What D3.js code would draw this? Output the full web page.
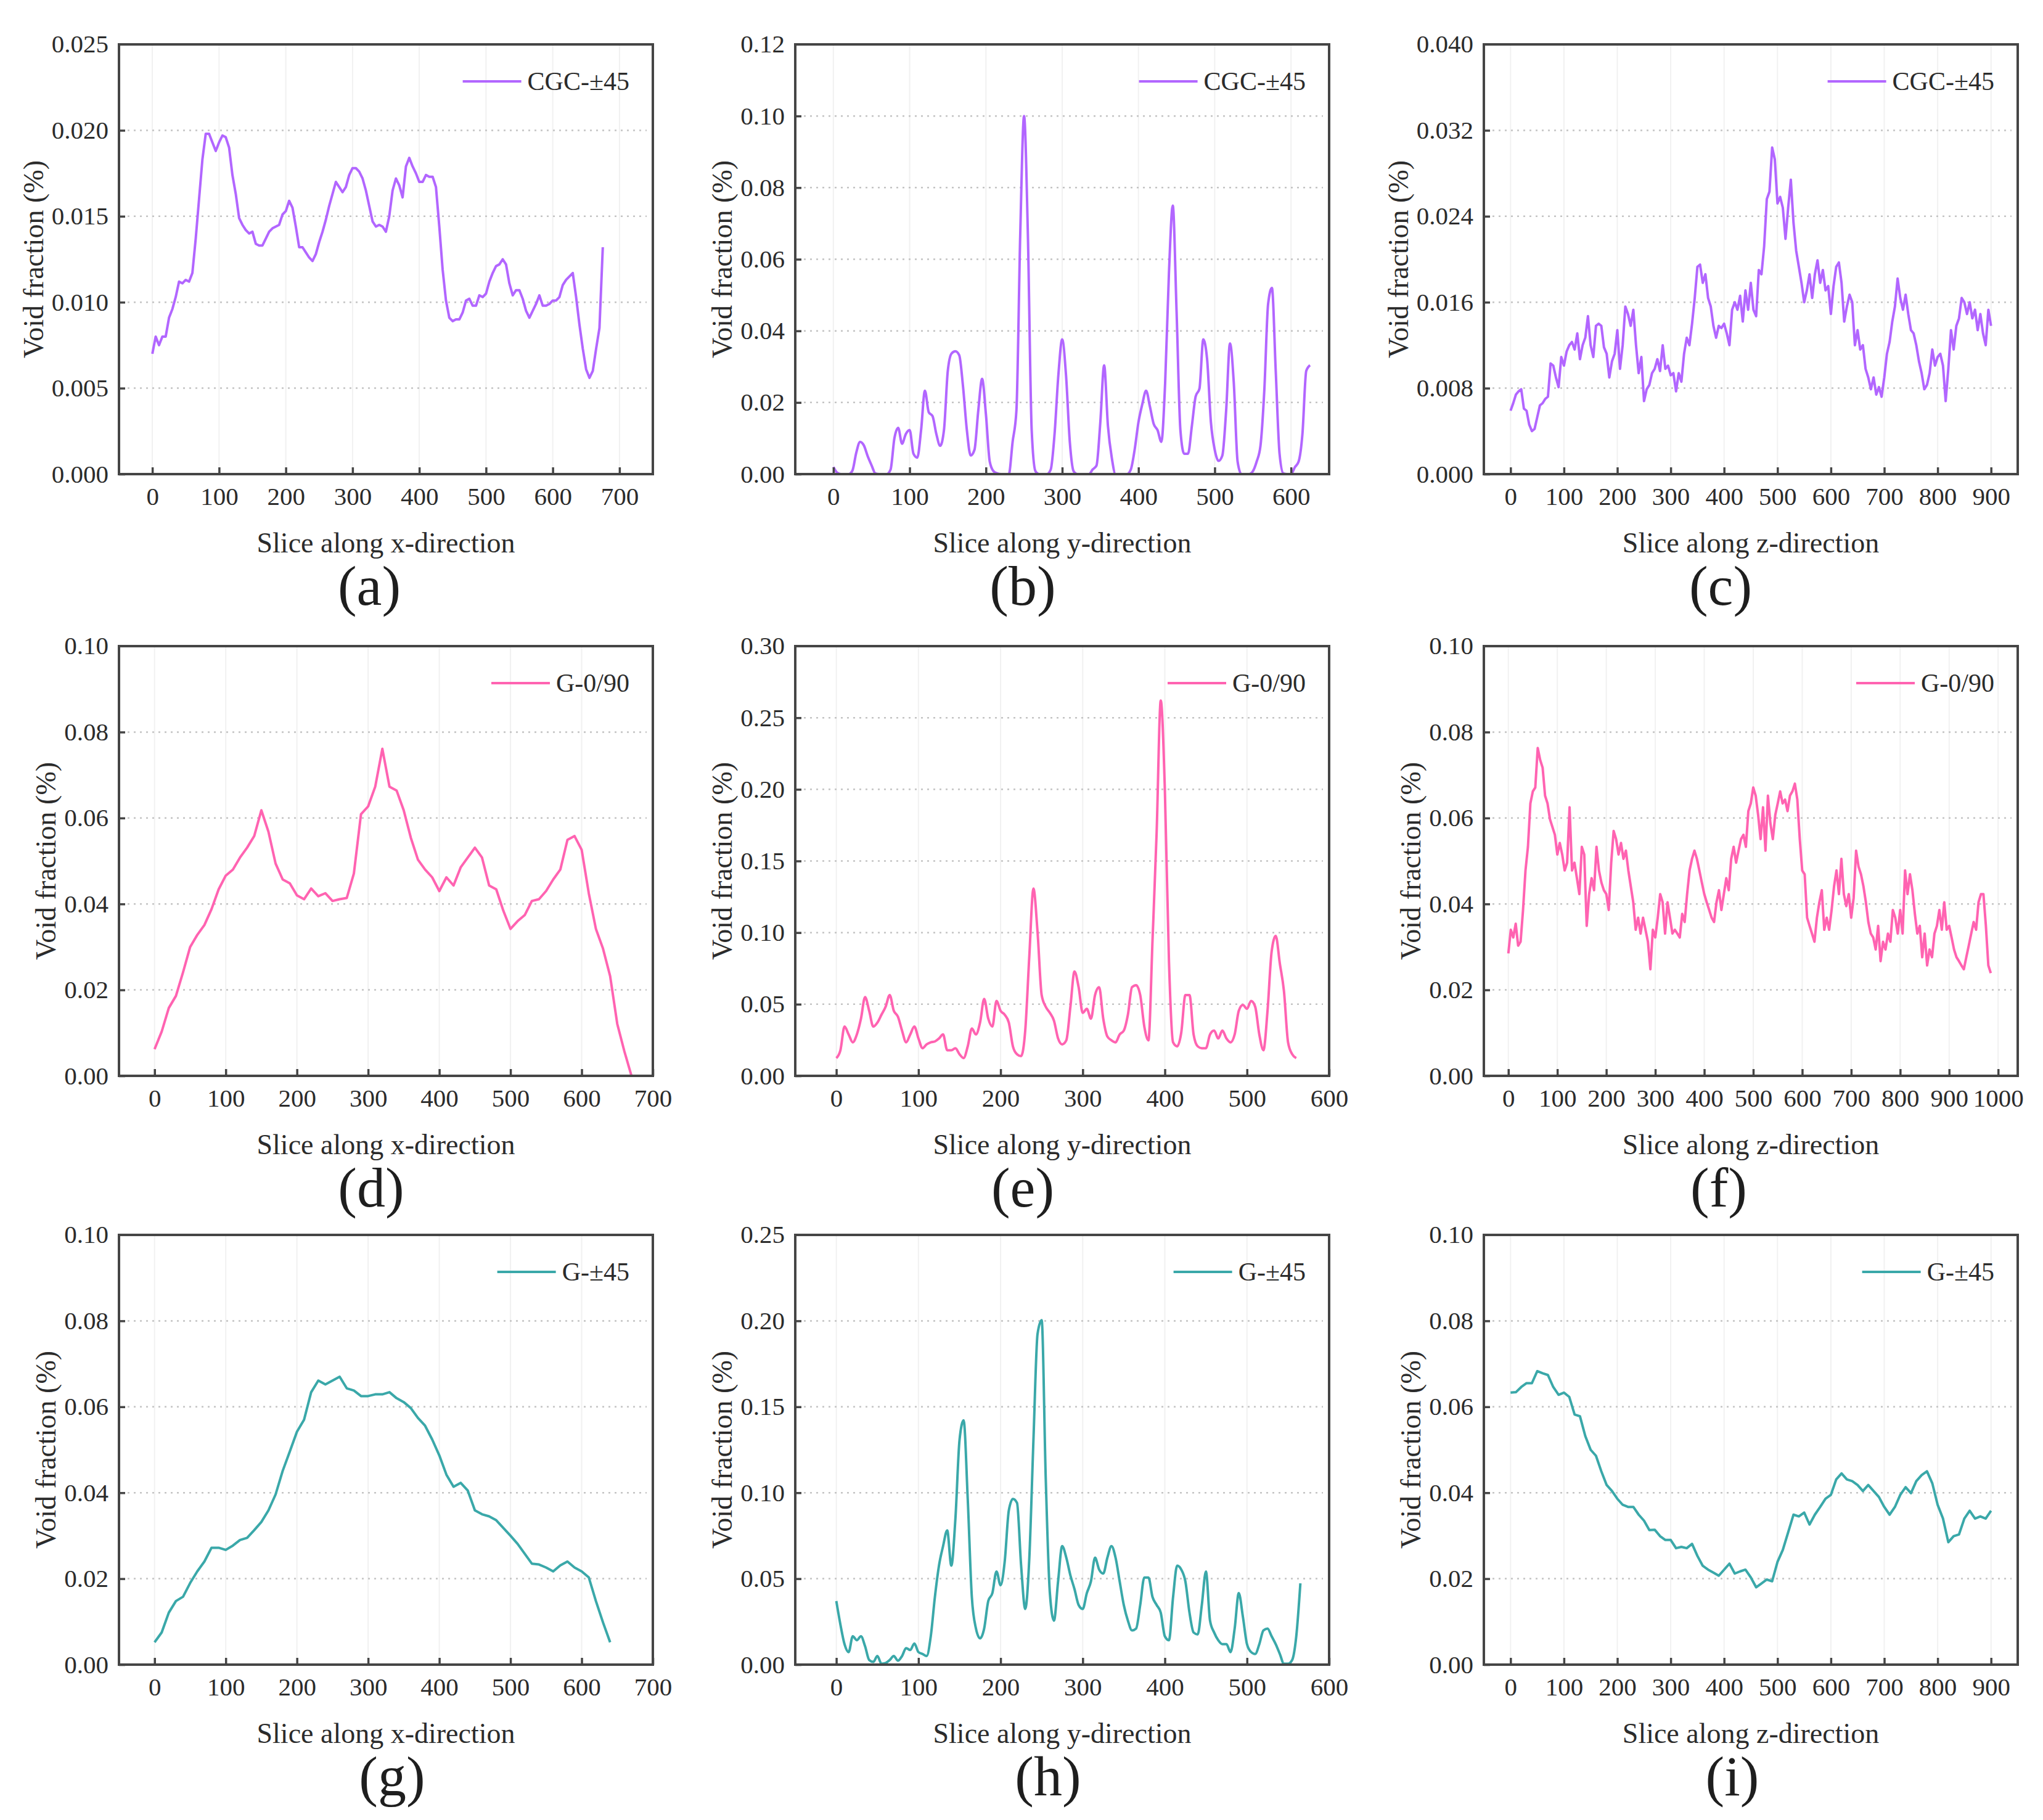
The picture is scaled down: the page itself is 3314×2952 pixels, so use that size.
<!DOCTYPE html>
<html>
<head>
<meta charset="utf-8">
<script src="https://cdn.jsdelivr.net/npm/d3@7"></script>
<style>
  body { margin: 0; background: #fff; }
  svg { display: block; }
  text { font-family: "Liberation Serif", "Times New Roman", serif; }
</style>
</head>
<body>
<div class="fig"></div>
<script>
// void fraction (%) per slice
// CGC-±45, x-direction, one value every 5 slices from 0
var cgcX = [
  0.0070, 0.0080, 0.0075, 0.0080, 0.0080, 0.0091, 0.0096, 0.0103, 0.0112, 0.0111,
  0.0113, 0.0112, 0.0117, 0.0137, 0.0160, 0.0183, 0.0198, 0.0198, 0.0193, 0.0188,
  0.0193, 0.0197, 0.0196, 0.0190, 0.0174, 0.0163, 0.0149, 0.0145, 0.0142, 0.0140,
  0.0141, 0.0134, 0.0133, 0.0133, 0.0137, 0.0141, 0.0143, 0.0144, 0.0145, 0.0151,
  0.0153, 0.0159, 0.0155, 0.0144, 0.0132, 0.0132, 0.0129, 0.0126, 0.0124, 0.0128,
  0.0135, 0.0141, 0.0148, 0.0156, 0.0163, 0.0170, 0.0167, 0.0164, 0.0167, 0.0174,
  0.0178, 0.0178, 0.0176, 0.0172, 0.0165, 0.0156, 0.0147, 0.0144, 0.0145, 0.0144,
  0.0141, 0.0150, 0.0165, 0.0172, 0.0168, 0.0161, 0.0179, 0.0184, 0.0179, 0.0175,
  0.0170, 0.0170, 0.0174, 0.0173, 0.0173, 0.0167, 0.0144, 0.0119, 0.0101, 0.0091,
  0.0089, 0.0090, 0.0090, 0.0094, 0.0101, 0.0102, 0.0098, 0.0098, 0.0104, 0.0103,
  0.0105, 0.0112, 0.0117, 0.0121, 0.0122, 0.0125, 0.0122, 0.0111, 0.0104, 0.0107,
  0.0107, 0.0102, 0.0095, 0.0091, 0.0095, 0.0099, 0.0104, 0.0098, 0.0098, 0.0099,
  0.0101, 0.0101, 0.0103, 0.0110, 0.0113, 0.0115, 0.0117, 0.0103, 0.0087, 0.0073,
  0.0061, 0.0056, 0.0060, 0.0073, 0.0085, 0.0132
];
// CGC-±45, y-direction, every 5 slices
var cgcY = [
  0.0020, 0.0004, 0, 0, 0, 0.0010, 0.0060, 0.0090, 0.0080, 0.0050,
  0.0025, 0.0002, 0, 0, 0, 0.0013, 0.0100, 0.0129, 0.0085, 0.0112,
  0.0123, 0.0057, 0.0046, 0.0123, 0.0233, 0.0173, 0.0162, 0.0112, 0.0079, 0.0123,
  0.0288, 0.0337, 0.0343, 0.0332, 0.0244, 0.0123, 0.0052, 0.0068, 0.0178, 0.0266,
  0.0167, 0.0035, 0.0008, 0.0002, 0, 0, 0, 0.0090, 0.0178, 0.0670,
  0.1000, 0.0670, 0.0123, 0.0008, 0, 0, 0, 0.0013, 0.0112, 0.0277,
  0.0376, 0.0277, 0.0090, 0.0008, 0, 0, 0, 0, 0.0013, 0.0024,
  0.0145, 0.0304, 0.0134, 0.0046, 0, 0, 0, 0, 0.0013, 0.0068,
  0.0145, 0.0195, 0.0233, 0.0189, 0.0140, 0.0123, 0.0090, 0.0255, 0.0563, 0.0750,
  0.0453, 0.0123, 0.0057, 0.0057, 0.0134, 0.0217, 0.0239, 0.0376, 0.0321, 0.0145,
  0.0068, 0.0037, 0.0052, 0.0178, 0.0365, 0.0255, 0.0035, 0, 0, 0,
  0.0008, 0.0035, 0.0079, 0.0233, 0.0475, 0.0520, 0.0288, 0.0057, 0.0002, 0,
  0, 0.0019, 0.0035, 0.0112, 0.0288, 0.0304
];
// CGC-±45, z-direction, every 5 slices
var cgcZ = [
  0.0059, 0.0066, 0.0074, 0.0077, 0.0079, 0.0061, 0.0059, 0.0046, 0.0040, 0.0042,
  0.0053, 0.0064, 0.0066, 0.0070, 0.0072, 0.0103, 0.0101, 0.0090, 0.0081, 0.0109,
  0.0101, 0.0114, 0.0120, 0.0123, 0.0116, 0.0131, 0.0107, 0.0120, 0.0127, 0.0147,
  0.0120, 0.0109, 0.0138, 0.0140, 0.0138, 0.0118, 0.0112, 0.0090, 0.0105, 0.0112,
  0.0134, 0.0098, 0.0120, 0.0156, 0.0149, 0.0138, 0.0153, 0.0120, 0.0094, 0.0109,
  0.0068, 0.0079, 0.0083, 0.0094, 0.0098, 0.0107, 0.0096, 0.0120, 0.0098, 0.0101,
  0.0092, 0.0094, 0.0077, 0.0094, 0.0086, 0.0112, 0.0127, 0.0120, 0.0140, 0.0164,
  0.0193, 0.0195, 0.0178, 0.0186, 0.0164, 0.0156, 0.0138, 0.0127, 0.0138, 0.0136,
  0.0140, 0.0131, 0.0120, 0.0153, 0.0160, 0.0153, 0.0166, 0.0142, 0.0171, 0.0153,
  0.0178, 0.0153, 0.0147, 0.0190, 0.0186, 0.0212, 0.0256, 0.0263, 0.0304, 0.0293,
  0.0252, 0.0258, 0.0248, 0.0219, 0.0248, 0.0274, 0.0234, 0.0208, 0.0193, 0.0178,
  0.0160, 0.0171, 0.0186, 0.0164, 0.0186, 0.0199, 0.0178, 0.0190, 0.0171, 0.0175,
  0.0149, 0.0175, 0.0193, 0.0197, 0.0178, 0.0142, 0.0156, 0.0167, 0.0160, 0.0120,
  0.0134, 0.0116, 0.0120, 0.0098, 0.0090, 0.0079, 0.0090, 0.0074, 0.0081, 0.0072,
  0.0090, 0.0112, 0.0123, 0.0142, 0.0156, 0.0182, 0.0164, 0.0153, 0.0167, 0.0149,
  0.0134, 0.0131, 0.0120, 0.0105, 0.0094, 0.0079, 0.0083, 0.0094, 0.0116, 0.0101,
  0.0109, 0.0112, 0.0101, 0.0068, 0.0098, 0.0134, 0.0116, 0.0138, 0.0145, 0.0164,
  0.0160, 0.0149, 0.0160, 0.0145, 0.0153, 0.0134, 0.0149, 0.0131, 0.0120, 0.0153,
  0.0138
];
// G-0/90, x-direction, every 10 slices
var g090X = [
  0.0062, 0.0103, 0.0158, 0.0186, 0.0241, 0.0300, 0.0328, 0.0351, 0.0388, 0.0434,
  0.0466, 0.0480, 0.0508, 0.0531, 0.0558, 0.0618, 0.0568, 0.0494, 0.0457, 0.0448,
  0.0420, 0.0411, 0.0436, 0.0418, 0.0425, 0.0407, 0.0411, 0.0414, 0.0471, 0.0609,
  0.0627, 0.0673, 0.0761, 0.0673, 0.0664, 0.0618, 0.0554, 0.0503, 0.0480, 0.0462,
  0.0430, 0.0462, 0.0443, 0.0485, 0.0508, 0.0531, 0.0508, 0.0443, 0.0434, 0.0384,
  0.0342, 0.0360, 0.0374, 0.0407, 0.0411, 0.0430, 0.0457, 0.0480, 0.0549, 0.0558,
  0.0526, 0.0425, 0.0342, 0.0296, 0.0232, 0.0121, 0.0057, 0.0000
];
// G-0/90, y-direction, every 5 slices
var g090Y = [
  0.0124, 0.0179, 0.0344, 0.0289, 0.0234, 0.0289, 0.0399, 0.0550, 0.0454, 0.0344,
  0.0372, 0.0427, 0.0482, 0.0564, 0.0454, 0.0413, 0.0316, 0.0234, 0.0289, 0.0344,
  0.0261, 0.0193, 0.0220, 0.0234, 0.0240, 0.0261, 0.0289, 0.0179, 0.0179, 0.0193,
  0.0151, 0.0124, 0.0206, 0.0330, 0.0289, 0.0372, 0.0537, 0.0399, 0.0344, 0.0523,
  0.0454, 0.0427, 0.0372, 0.0206, 0.0151, 0.0138, 0.0316, 0.0839, 0.1307, 0.1004,
  0.0564, 0.0482, 0.0440, 0.0385, 0.0261, 0.0220, 0.0248, 0.0482, 0.0729, 0.0619,
  0.0440, 0.0468, 0.0399, 0.0564, 0.0619, 0.0399, 0.0275, 0.0248, 0.0234, 0.0289,
  0.0316, 0.0427, 0.0619, 0.0633, 0.0564, 0.0344, 0.0248, 0.0949, 0.1700, 0.2620,
  0.2000, 0.0800, 0.0234, 0.0206, 0.0303, 0.0564, 0.0564, 0.0289, 0.0206, 0.0193,
  0.0193, 0.0289, 0.0316, 0.0261, 0.0316, 0.0261, 0.0234, 0.0289, 0.0454, 0.0495,
  0.0468, 0.0523, 0.0482, 0.0289, 0.0179, 0.0454, 0.0867, 0.0977, 0.0784, 0.0592,
  0.0234, 0.0151, 0.0124
];
// G-0/90, z-direction, every 5 slices
var g090Z = [
  0.0285, 0.0340, 0.0322, 0.0354, 0.0303, 0.0312, 0.0386, 0.0478, 0.0533, 0.0634,
  0.0662, 0.0671, 0.0763, 0.0735, 0.0717, 0.0652, 0.0634, 0.0597, 0.0579, 0.0561,
  0.0515, 0.0542, 0.0515, 0.0478, 0.0496, 0.0625, 0.0478, 0.0496, 0.0460, 0.0423,
  0.0533, 0.0515, 0.0349, 0.0423, 0.0460, 0.0432, 0.0533, 0.0478, 0.0450, 0.0432,
  0.0423, 0.0386, 0.0496, 0.0570, 0.0551, 0.0515, 0.0542, 0.0505, 0.0524, 0.0478,
  0.0441, 0.0404, 0.0340, 0.0368, 0.0331, 0.0368, 0.0340, 0.0312, 0.0248, 0.0340,
  0.0322, 0.0368, 0.0423, 0.0404, 0.0331, 0.0404, 0.0368, 0.0331, 0.0340, 0.0331,
  0.0322, 0.0377, 0.0358, 0.0423, 0.0478, 0.0505, 0.0524, 0.0505, 0.0478, 0.0450,
  0.0423, 0.0404, 0.0386, 0.0368, 0.0358, 0.0404, 0.0432, 0.0386, 0.0423, 0.0460,
  0.0432, 0.0505, 0.0533, 0.0496, 0.0524, 0.0551, 0.0561, 0.0533, 0.0616, 0.0634,
  0.0671, 0.0652, 0.0607, 0.0551, 0.0625, 0.0524, 0.0652, 0.0588, 0.0551, 0.0607,
  0.0634, 0.0662, 0.0634, 0.0643, 0.0616, 0.0652, 0.0662, 0.0680, 0.0643, 0.0551,
  0.0478, 0.0469, 0.0368, 0.0349, 0.0331, 0.0312, 0.0368, 0.0404, 0.0432, 0.0340,
  0.0368, 0.0340, 0.0386, 0.0441, 0.0478, 0.0423, 0.0505, 0.0423, 0.0395, 0.0423,
  0.0368, 0.0414, 0.0524, 0.0487, 0.0469, 0.0441, 0.0404, 0.0358, 0.0331, 0.0322,
  0.0294, 0.0349, 0.0267, 0.0312, 0.0294, 0.0331, 0.0312, 0.0386, 0.0368, 0.0331,
  0.0386, 0.0331, 0.0478, 0.0423, 0.0469, 0.0432, 0.0377, 0.0331, 0.0349, 0.0276,
  0.0331, 0.0257, 0.0294, 0.0276, 0.0331, 0.0349, 0.0386, 0.0340, 0.0404, 0.0340,
  0.0349, 0.0322, 0.0294, 0.0276, 0.0267, 0.0257, 0.0248, 0.0276, 0.0303, 0.0331,
  0.0358, 0.0340, 0.0404, 0.0423, 0.0423, 0.0349, 0.0257, 0.0239
];
// G-±45, x-direction, every 10 slices
var g45X = [
  0.0052, 0.0075, 0.0121, 0.0148, 0.0158, 0.0190, 0.0217, 0.0240, 0.0272, 0.0272,
  0.0267, 0.0277, 0.0290, 0.0295, 0.0313, 0.0332, 0.0359, 0.0396, 0.0451, 0.0496,
  0.0542, 0.0570, 0.0634, 0.0661, 0.0652, 0.0661, 0.0670, 0.0643, 0.0638, 0.0625,
  0.0625, 0.0629, 0.0629, 0.0634, 0.0620, 0.0611, 0.0597, 0.0574, 0.0556, 0.0524,
  0.0487, 0.0442, 0.0414, 0.0423, 0.0405, 0.0359, 0.0350, 0.0345, 0.0336, 0.0318,
  0.0300, 0.0281, 0.0258, 0.0235, 0.0233, 0.0226, 0.0217, 0.0231, 0.0240, 0.0226,
  0.0217, 0.0203, 0.0148, 0.0098, 0.0052
];
// G-±45, y-direction, every 5 slices
var g45Y = [
  0.0370, 0.0233, 0.0119, 0.0073, 0.0165, 0.0142, 0.0165, 0.0107, 0.0027, 0.0016,
  0.0050, 0.0005, 0.0009, 0.0027, 0.0050, 0.0023, 0.0050, 0.0096, 0.0085, 0.0123,
  0.0073, 0.0062, 0.0050, 0.0165, 0.0393, 0.0576, 0.0690, 0.0781, 0.0576, 0.0850,
  0.1307, 0.1421, 0.0964, 0.0393, 0.0210, 0.0153, 0.0210, 0.0370, 0.0416, 0.0542,
  0.0462, 0.0599, 0.0896, 0.0964, 0.0941, 0.0576, 0.0324, 0.0622, 0.1307, 0.1924,
  0.2004, 0.1079, 0.0416, 0.0256, 0.0484, 0.0690, 0.0622, 0.0519, 0.0439, 0.0347,
  0.0324, 0.0416, 0.0484, 0.0622, 0.0553, 0.0530, 0.0622, 0.0690, 0.0622, 0.0484,
  0.0347, 0.0256, 0.0199, 0.0210, 0.0347, 0.0507, 0.0507, 0.0393, 0.0347, 0.0302,
  0.0165, 0.0142, 0.0393, 0.0576, 0.0553, 0.0484, 0.0302, 0.0187, 0.0176, 0.0347,
  0.0542, 0.0256, 0.0187, 0.0142, 0.0119, 0.0119, 0.0073, 0.0210, 0.0416, 0.0279,
  0.0119, 0.0073, 0.0062, 0.0119, 0.0199, 0.0210, 0.0165, 0.0119, 0.0062, 0.0005,
  0.0005, 0.0027, 0.0165, 0.0473
];
// G-±45, z-direction, every 10 slices
var g45Z = [
  0.0633, 0.0634, 0.0646, 0.0655, 0.0655, 0.0683, 0.0678, 0.0674, 0.0646, 0.0628,
  0.0633, 0.0623, 0.0582, 0.0578, 0.0532, 0.0500, 0.0486, 0.0450, 0.0418, 0.0404,
  0.0386, 0.0372, 0.0367, 0.0367, 0.0349, 0.0335, 0.0313, 0.0314, 0.0299, 0.0290,
  0.0290, 0.0271, 0.0274, 0.0271, 0.0281, 0.0253, 0.0230, 0.0221, 0.0214, 0.0207,
  0.0221, 0.0235, 0.0212, 0.0217, 0.0221, 0.0203, 0.0180, 0.0189, 0.0198, 0.0194,
  0.0239, 0.0267, 0.0308, 0.0349, 0.0345, 0.0354, 0.0326, 0.0349, 0.0367, 0.0386,
  0.0395, 0.0431, 0.0445, 0.0431, 0.0427, 0.0418, 0.0404, 0.0418, 0.0404, 0.0390,
  0.0367, 0.0349, 0.0367, 0.0395, 0.0413, 0.0399, 0.0427, 0.0441, 0.0450, 0.0422,
  0.0372, 0.0340, 0.0285, 0.0299, 0.0303, 0.0340, 0.0358, 0.0340, 0.0345, 0.0340,
  0.0358
];

// tick labels
var xTicks600 = [0, 100, 200, 300, 400, 500, 600];
var xTicks700 = [0, 100, 200, 300, 400, 500, 600, 700];
var xTicks900 = [0, 100, 200, 300, 400, 500, 600, 700, 800, 900];
var xTicks1000 = [0, 100, 200, 300, 400, 500, 600, 700, 800, 900, 1000];
var yTicksA = [0, 0.005, 0.010, 0.015, 0.020, 0.025];
var yTicksB = [0, 0.02, 0.04, 0.06, 0.08, 0.10, 0.12];
var yTicksC = [0, 0.008, 0.016, 0.024, 0.032, 0.040];
var yTicks010 = [0, 0.02, 0.04, 0.06, 0.08, 0.10];
var yTicksE = [0, 0.05, 0.10, 0.15, 0.20, 0.25, 0.30];
var yTicksH = [0, 0.05, 0.10, 0.15, 0.20, 0.25];

var seriesNames = ["CGC-\u00b145", "G-0/90", "G-\u00b145"];
var seriesColors = ["#b266ff", "#ff63b1", "#3aa8a9"];
var directions = ["x", "y", "z"];

var panels = [
  {letter: "a", row: 0, col: 0, values: cgcX, step: 5, xMax: 750, xTicks: xTicks700, yTicks: yTicksA, fmt: ".3f", smooth: false},
  {letter: "b", row: 0, col: 1, values: cgcY, step: 5, xMax: 650, xTicks: xTicks600, yTicks: yTicksB, fmt: ".2f", smooth: true},
  {letter: "c", row: 0, col: 2, values: cgcZ, step: 5, xMax: 950, xTicks: xTicks900, yTicks: yTicksC, fmt: ".3f", smooth: false},
  {letter: "d", row: 1, col: 0, values: g090X, step: 10, xMax: 700, xTicks: xTicks700, yTicks: yTicks010, fmt: ".2f", smooth: false},
  {letter: "e", row: 1, col: 1, values: g090Y, step: 5, xMax: 600, xTicks: xTicks600, yTicks: yTicksE, fmt: ".2f", smooth: true},
  {letter: "f", row: 1, col: 2, values: g090Z, step: 5, xMax: 1040, xTicks: xTicks1000, yTicks: yTicks010, fmt: ".2f", smooth: false},
  {letter: "g", row: 2, col: 0, values: g45X, step: 10, xMax: 700, xTicks: xTicks700, yTicks: yTicks010, fmt: ".2f", smooth: false},
  {letter: "h", row: 2, col: 1, values: g45Y, step: 5, xMax: 600, xTicks: xTicks600, yTicks: yTicksH, fmt: ".2f", smooth: true},
  {letter: "i", row: 2, col: 2, values: g45Z, step: 10, xMax: 950, xTicks: xTicks900, yTicks: yTicks010, fmt: ".2f", smooth: false}
];

// page layout
var lefts = [193, 1290, 2407];
var tops = [72, 1048, 2003];
var W = 866, H = 697;
var letterDx = [[-27, -64, -49], [-24, -64, -52], [10, -23, -30]];

var svg = d3.select(".fig").append("svg")
    .attr("width", 3314)
    .attr("height", 2952)
    .style("background", "#fff");

panels.forEach(function(p) {
  var g = svg.append("g")
      .attr("transform", "translate(" + lefts[p.col] + "," + tops[p.row] + ")");

  var x = d3.scaleLinear().domain([-50, p.xMax]).range([0, W]);
  var y = d3.scaleLinear().domain([0, p.yTicks[p.yTicks.length - 1]]).range([H, 0]);

  // faint vertical grid
  g.append("g").selectAll("line")
      .data(p.xTicks)
    .join("line")
      .attr("x1", x).attr("x2", x)
      .attr("y1", 0).attr("y2", H)
      .style("stroke", "#f1f1f1")
      .style("stroke-width", "2px");

  // dotted horizontal grid
  g.append("g").selectAll("line")
      .data(p.yTicks.slice(1, -1))
    .join("line")
      .attr("x1", 14).attr("x2", W - 10)
      .attr("y1", y).attr("y2", y)
      .style("stroke", "#c4c4c4")
      .style("stroke-width", "2.5px")
      .style("stroke-dasharray", "3,7");

  var pts = p.values.map(function(v, i) { return [i * p.step, v]; });
  var line = d3.line()
      .x(function(d) { return x(d[0]); })
      .y(function(d) { return y(d[1]); })
      .curve(p.smooth ? d3.curveMonotoneX : d3.curveLinear);

  g.append("path")
      .datum(pts)
      .attr("d", line)
      .style("fill", "none")
      .style("stroke", seriesColors[p.row])
      .style("stroke-width", "4px")
      .style("stroke-linejoin", "round");

  g.append("rect")
      .attr("width", W)
      .attr("height", H)
      .style("fill", "none")
      .style("stroke", "#454545")
      .style("stroke-width", "4px");

  var xa = g.append("g")
      .attr("transform", "translate(0," + H + ")")
      .call(d3.axisBottom(x).tickValues(p.xTicks).tickSize(-11).tickPadding(21).tickFormat(d3.format("d")));
  var ya = g.append("g")
      .call(d3.axisLeft(y).tickValues(p.yTicks.slice(0, -1)).tickSize(-10).tickPadding(17).tickFormat(d3.format(p.fmt)));

  // top label of the y axis has no tick, just the number
  ya.append("text")
      .attr("x", -17)
      .attr("y", 0)
      .attr("dy", "0.32em")
      .attr("text-anchor", "end")
      .text(d3.format(p.fmt)(p.yTicks[p.yTicks.length - 1]));

  [xa, ya].forEach(function(a) {
    a.attr("font-family", null).attr("font-size", null);
    a.select(".domain").remove();
    a.selectAll("line").style("stroke", "#454545").style("stroke-width", "3.5px");
    a.selectAll("text").style("font-size", "41px").style("fill", "#2b2b2b");
  });

  // axis titles
  var yb = ya.node().getBBox();
  var cx = yb.x - 30;
  g.append("text")
      .attr("transform", "translate(" + (cx + 16) + "," + (H / 2) + ") rotate(-90)")
      .attr("text-anchor", "middle")
      .style("font-size", "46px")
      .style("fill", "#2b2b2b")
      .text("Void fraction (%)");

  g.append("text")
      .attr("x", W / 2)
      .attr("y", H + 127)
      .attr("text-anchor", "middle")
      .style("font-size", "46px")
      .style("fill", "#2b2b2b")
      .text("Slice along " + directions[p.col] + "-direction");

  g.append("text")
      .attr("x", W / 2 + letterDx[p.row][p.col])
      .attr("y", H + 212)
      .attr("text-anchor", "middle")
      .style("font-size", "92px")
      .style("fill", "#1e1e1e")
      .text("(" + p.letter + ")");

  // legend
  var lt = g.append("text")
      .attr("x", W - 38)
      .attr("y", 74)
      .attr("text-anchor", "end")
      .style("font-size", "42px")
      .style("fill", "#2b2b2b")
      .text(seriesNames[p.row]);
  var tx = W - 38 - lt.node().getComputedTextLength();
  g.append("line")
      .attr("x1", tx - 105)
      .attr("x2", tx - 10)
      .attr("y1", 60)
      .attr("y2", 60)
      .style("stroke", seriesColors[p.row])
      .style("stroke-width", "4px");
});
</script>
</body>
</html>
